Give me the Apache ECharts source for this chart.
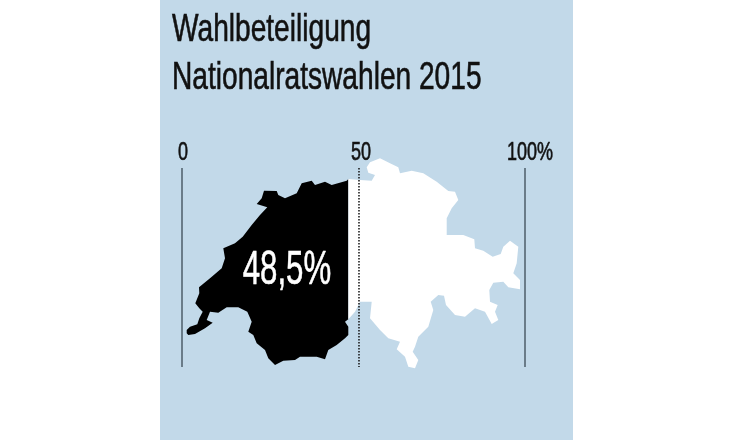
<!DOCTYPE html>
<html>

<head>
    <meta charset="utf-8" />
    <title>Wahlbeteiligung</title>
    <script src="https://cdn.jsdelivr.net/npm/echarts@6/dist/echarts.min.js"></script>
    <style>
        html, body { margin: 0; padding: 0; background: #fff; }
    </style>
</head>

<body>
    <div id="chart" style="position:absolute;left:160px;top:0;width:413px;height:440px;"></div>
    <script type="text/javascript">
        var titleLines = ['Wahlbeteiligung', 'Nationalratswahlen 2015'];
        var turnout = 48.5;
        var turnoutText = '48,5%';
        // the 50 mark stands right of true 50 in the original graphic
        var tickValues = [0, 51.6, 100];
        var tickLabels = ['0', '50', '100%'];
        var mapWidth = 343;
        var mapHeight = 199;
        // outline of Switzerland in map units, clockwise from the west tip
        var outlineX = [4.7, 4.7, 8, 15.3, 17.3, 20.7, 17.3, 13.3, 17.3, 17, 28, 39.7, 43, 41.3, 53, 60.7, 69.7, 78, 85.3, 74.7,
            79.7, 82, 94.7, 96.3, 103, 114.7, 119.7, 129.7, 133, 143, 149.7, 164.7, 166.3, 178, 189.7, 193, 186.3, 184.7, 188, 198,
            208, 216.3, 218, 229.7, 241.3, 254.7, 266.3, 273, 276.3, 269.7, 264.7, 264.7, 281.3, 292.3, 293, 301.3, 310.7, 318.7, 321.3, 328,
            336.3, 334.7, 331.3, 338, 338, 326.3, 321.3, 311.3, 307.3, 308, 315.7, 313, 316.3, 309.7, 303, 293, 283, 273, 264, 262,
            256.3, 248.7, 251.3, 246.3, 236.3, 233, 230.7, 236.3, 233, 226.3, 223, 214.7, 218, 206.3, 198, 188, 189.7, 178, 173, 166.3,
            163, 166.3, 166.3, 163, 154.7, 146.3, 143, 134.7, 118, 113, 101.3, 93, 86.3, 83, 74.7, 71.3, 66.3, 69.7, 65.3, 56.3,
            44.7, 36.3, 28, 24.7, 30.7, 23, 13, 6.3];
        var outlineY = [165.3, 162, 158.7, 156.3, 150.3, 143.7, 140.3, 135.3, 125.3, 119.3, 110.3, 100.3, 90.3, 80.3, 75.3, 68.7, 57, 47, 39.3, 36,
            30.3, 22.7, 23, 27, 30.3, 25.3, 15.3, 12.7, 17, 13.7, 17, 12.7, 11, 12, 12.7, 7, 4.7, -0.7, -5.7, -9.7,
            -4.7, -0.7, 5.3, 2.7, 5.3, 13.7, 23, 23.7, 32, 40.3, 50.3, 67, 67, 71.3, 80.3, 82.7, 88.7, 86, 78.7, 72.7,
            78.7, 95.3, 105.3, 112, 121.3, 119.3, 113.7, 114.7, 122, 133.7, 137, 143.7, 152, 156, 143.7, 140.3, 148.7, 147, 137, 127.7,
            127, 133.7, 142, 158.7, 168.7, 178.7, 183.7, 192, 200.3, 198.7, 188.7, 181.3, 173.7, 170.3, 162, 150.3, 133.7, 133.7, 143.7, 151.3,
            153.7, 158.7, 167, 170.3, 177, 182, 191.3, 188.7, 188.7, 192, 192.7, 197, 190.3, 182, 175.3, 167, 163.7, 153.7, 143.7, 139.3,
            139.3, 144.7, 143.7, 152, 154.7, 160.3, 166, 167];

        var chart = echarts.init(document.getElementById('chart'));
        var fontName = 'Liberation Sans';

        function renderShare(params, api) {
            var splitX = api.coord([turnout / 100 * mapWidth, 0])[0];
            var voted = params.dataIndex === 0;
            var points = outlineX.map(function (x, i) {
                var p = api.coord([x, outlineY[i]]);
                return [voted ? Math.min(p[0], splitX) : Math.max(p[0], splitX), p[1]];
            });
            return {
                type: 'polygon',
                shape: { points: points },
                style: { fill: voted ? '#000' : '#fff' }
            };
        }

        // no condensed font is installed, so text is squeezed with scaleX
        // and given a thin stroke to bring back the weight
        function squeezedText(text, x, y, size, scale, color, align) {
            return {
                type: 'text',
                x: x,
                y: y,
                scaleX: scale,
                style: {
                    text: text,
                    fill: color,
                    stroke: color,
                    lineWidth: 0.6,
                    font: size + 'px "' + fontName + '"',
                    textAlign: align,
                    textVerticalAlign: 'bottom'
                }
            };
        }

        function renderTickLabel(params, api) {
            var p = api.coord([api.value(0), 0]);
            var shift = [1, 2, 5][params.dataIndex];
            return squeezedText(tickLabels[params.dataIndex], p[0] + shift, p[1] - 2, 25, 0.72, '#111', 'center');
        }

        function renderTurnoutLabel(params, api) {
            var p = api.coord([api.value(0), api.value(1)]);
            return squeezedText(turnoutText, p[0], p[1], 48, 0.65, '#fff', 'center');
        }

        function tickLine(value, color, type, width) {
            return {
                type: 'line',
                xAxisIndex: 0,
                symbol: 'none',
                silent: true,
                z: 5,
                lineStyle: { color: color, type: type, width: width },
                data: [[value, 0], [value, mapHeight]]
            };
        }

        var option = {
            animation: false,
            backgroundColor: '#c2d9e9',
            graphic: titleLines.map(function (line, i) {
                return squeezedText(line, 12, 50 + i * 48, 38, 0.74, '#111', 'left');
            }),
            grid: { left: 22, width: mapWidth, top: 168, height: mapHeight },
            xAxis: [{
                type: 'value',
                position: 'top',
                min: 0,
                max: 100,
                axisLine: { show: false },
                axisTick: { show: false },
                splitLine: { show: false },
                axisLabel: { show: false }
            }, {
                type: 'value',
                min: 0,
                max: mapWidth,
                show: false
            }],
            yAxis: { type: 'value', inverse: true, min: 0, max: mapHeight, show: false },
            series: [{
                type: 'custom',
                xAxisIndex: 1,
                clip: false,
                silent: true,
                z: 2,
                renderItem: renderShare,
                data: [turnout, 100 - turnout]
            },
            tickLine(tickValues[0], '#4c5c68', 'solid', 1.5),
            tickLine(tickValues[1], '#111', 'dotted', 1.5),
            tickLine(tickValues[2], '#4c5c68', 'solid', 1.5),
            {
                type: 'custom',
                xAxisIndex: 0,
                clip: false,
                silent: true,
                z: 6,
                renderItem: renderTickLabel,
                data: tickValues.map(function (v) { return [v, 0]; })
            }, {
                type: 'custom',
                xAxisIndex: 0,
                clip: false,
                silent: true,
                z: 6,
                renderItem: renderTurnoutLabel,
                data: [[30.6, 127]]
            }]
        };
        chart.setOption(option);
    </script>
</body>

</html>
